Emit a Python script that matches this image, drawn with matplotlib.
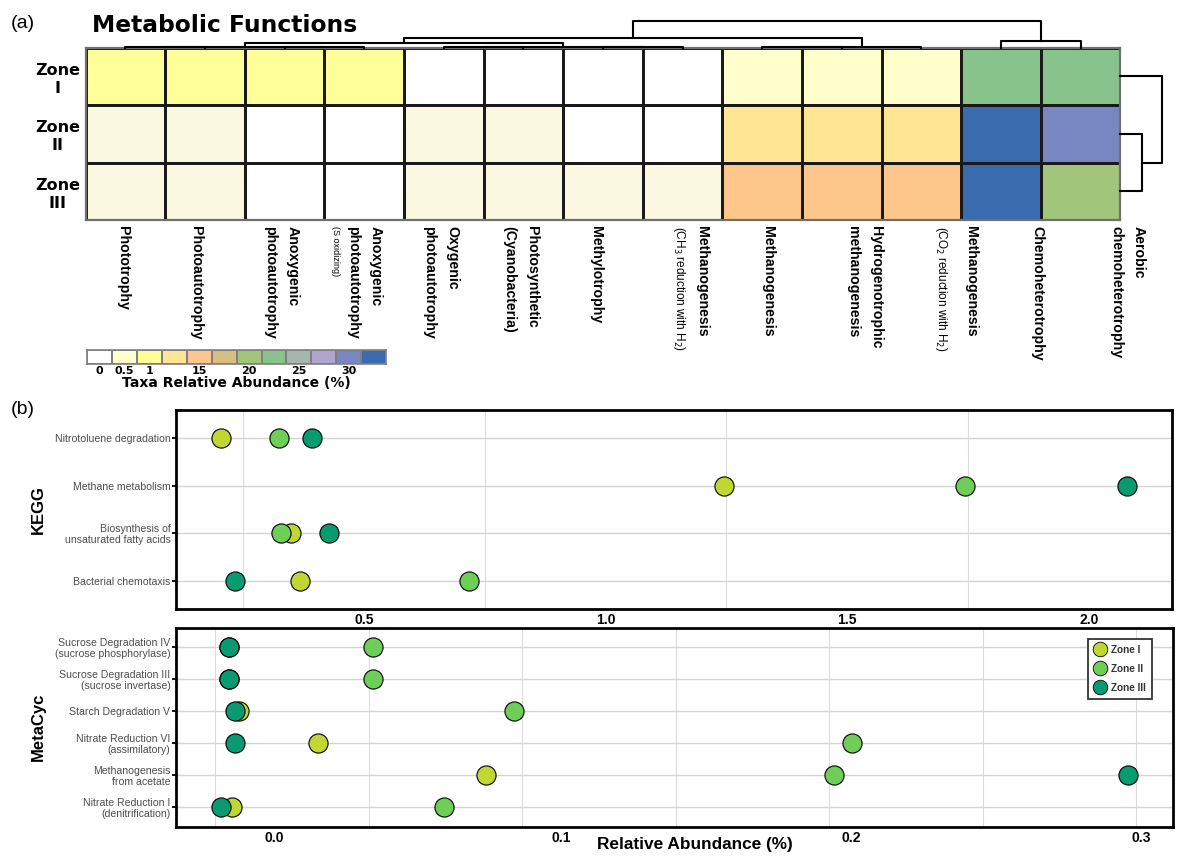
from __future__ import annotations

import matplotlib

matplotlib.use("Agg")
import matplotlib.pyplot as plt
import numpy as np
from matplotlib.colors import BoundaryNorm, ListedColormap
from matplotlib.lines import Line2D

W, H = 1186, 867

# ---------------------------------------------------------------- (a) data
ZONE_NAMES = ["Zone I", "Zone II", "Zone III"]
ZONE_LABELS = ["Zone\nI", "Zone\nII", "Zone\nIII"]

FUNCTIONS = [
    "Phototrophy",
    "Photoautotrophy",
    "Anoxygenic\nphotoautotrophy",
    "Anoxygenic\nphotoautotrophy",
    "Oxygenic\nphotoautotrophy",
    "Photosynthetic\n(Cyanobacteria)",
    "Methylotrophy",
    "Methanogenesis",
    "Methanogenesis",
    "Hydrogenotrophic\nmethanogenesis",
    "Methanogenesis",
    "Chemoheterotrophy",
    "Aerobic\nchemoheterotrophy",
]
FUNCTION_NOTES = {
    3: "(S oxidizing)",
    7: "(CH$_3$ reduction with H$_2$)",
    10: "(CO$_2$ reduction with H$_2$)",
}

# taxa relative abundance (%)
ABUND_ZONE_I = [2.5, 2.5, 2.5, 2.5, 0, 0, 0, 0, 0.7, 0.7, 0.7, 23.5, 23.5]
ABUND_ZONE_II = [0.3, 0.3, 0, 0, 0.3, 0.3, 0, 0, 10, 10, 10, 35, 31]
ABUND_ZONE_III = [0.3, 0.3, 0, 0, 0.3, 0.3, 0.3, 0.3, 16, 16, 16, 34, 21]

BIN_EDGES = [0, 0.05, 0.5, 1, 5, 15, 17.5, 20, 22.5, 25, 27.5, 30, 32.5, 40]
BIN_COLORS = [
    "#FFFFFF", "#FAF8E0", "#FFFFCC", "#FFFF99", "#FFE594", "#FDC68A", "#D9BE82",
    "#A1C57B", "#89C38C", "#A7B5AF", "#B0A5CF", "#7887C1", "#3A6BAF",
]
CBAR_LABELS = ["0", "0.5", "1", "", "15", "", "20", "", "25", "", "30", ""]

# (left, right, height) merges, new node ids continue after the leaves
COL_LINKAGE = [
    (0, 1, 0.4), (2, 3, 0.4), (13, 14, 1.0),
    (4, 5, 0.4), (6, 7, 0.4), (16, 17, 1.0),
    (15, 18, 5.0),
    (8, 9, 0.5), (20, 10, 1.0),
    (19, 21, 9.4),
    (11, 12, 6.7),
    (22, 23, 27.0),
]
ROW_LINKAGE = [(1, 2, 22.0), (0, 3, 41.5)]

# ---------------------------------------------------------------- (b) data
ZONE_COLORS = ["#C0D731", "#6ECE58", "#089A70"]

KEGG_PATHWAYS = [
    "Nitrotoluene degradation",
    "Methane metabolism",
    "Biosynthesis of\nunsaturated fatty acids",
    "Bacterial chemotaxis",
]
KEGG_ZONE_I = [0.205, 1.244, 0.349, 0.368]
KEGG_ZONE_II = [0.325, 1.744, 0.328, 0.718]
KEGG_ZONE_III = [0.393, 2.078, 0.428, 0.234]

META_PATHWAYS = [
    "Sucrose Degradation IV\n(sucrose phosphorylase)",
    "Sucrose Degradation III\n(sucrose invertase)",
    "Starch Degradation V",
    "Nitrate Reduction VI\n(assimilatory)",
    "Methanogenesis\nfrom acetate",
    "Nitrate Reduction I\n(denitrification)",
]
META_ZONE_I = [0.0044, 0.0044, 0.0075, 0.0334, 0.0882, 0.0053]
META_ZONE_II = [0.0513, 0.0513, 0.0973, 0.2075, 0.2014, 0.0743]
META_ZONE_III = [0.0044, 0.0044, 0.0065, 0.0065, 0.2972, 0.0019]

KEGG_TICKS = [0.5, 1.0, 1.5, 2.0]
META_TICK_LABELS = ["0.0", "0.1", "0.2", "0.3"]
# the original figure prints these labels off the grid; keep them where they sit
META_TICK_POS = [0.019, 0.1128, 0.2071, 0.3015]

# label nudges, in column widths
LABEL_SHIFT = [-0.03, -0.11, -0.04, 0.0, -0.04, -0.03, -0.09, 0.24, 0.07, 0.28, 0.62, 0.46, 0.59]
NOTE_SHIFT = {3: -0.36, 7: -0.05, 10: 0.25}

SANS = ["Liberation Sans", "DejaVu Sans"]
WIDE = ["DejaVu Sans"]


def px_axes(fig, left, top, right, bottom):
    return fig.add_axes([left / W, 1 - bottom / H, (right - left) / W, (bottom - top) / H])


def draw_dendrogram(ax, linkage, n_leaves, orient):
    pos = {i: i + 0.5 for i in range(n_leaves)}
    height = {i: 0.0 for i in range(n_leaves)}
    for k, (a, b, h) in enumerate(linkage):
        xs = [pos[a], pos[a], pos[b], pos[b]]
        ys = [height[a], h, h, height[b]]
        if orient == "top":
            ax.plot(xs, ys, color="black", lw=1.5, clip_on=False)
        else:
            ax.plot(ys, xs, color="black", lw=1.5, clip_on=False)
        node = n_leaves + k
        pos[node] = (pos[a] + pos[b]) / 2
        height[node] = h
    ax.axis("off")


def heatmap_panel(fig):
    data = np.array([ABUND_ZONE_I, ABUND_ZONE_II, ABUND_ZONE_III])
    cmap = ListedColormap(BIN_COLORS)
    norm = BoundaryNorm(BIN_EDGES, cmap.N)
    ax = px_axes(fig, 85.7, 47.7, 1120.4, 220)
    ax.pcolormesh(data, cmap=cmap, norm=norm, edgecolors="#1a1a1a", linewidth=1.0)
    ax.set_xlim(0, data.shape[1])
    ax.set_ylim(data.shape[0], 0)
    ax.set_xticks([])
    ax.set_yticks([])
    for s in ax.spines.values():
        s.set_color("#707070")
        s.set_linewidth(1.6)

    for i, lab in enumerate(ZONE_LABELS):
        ax.text(-0.35, i + 0.55, lab, ha="center", va="center", fontsize=11.5,
                fontweight="bold", family=WIDE, linespacing=1.25)

    for j, lab in enumerate(FUNCTIONS):
        ax.text(j + 0.5 + LABEL_SHIFT[j], 3.1, lab, rotation=270, ha="center", va="top",
                multialignment="left", fontsize=10.2, fontweight="bold",
                linespacing=1.8, clip_on=False)
    for j, note in FUNCTION_NOTES.items():
        size = 6.5 if j == 3 else 8.5
        ax.text(j + 0.5 + NOTE_SHIFT[j], 3.1, note, rotation=270, ha="center", va="top",
                fontsize=size, clip_on=False)

    ax_top = px_axes(fig, 85.7, 20.7, 1120.4, 47.7)
    ax_top.set_xlim(0, data.shape[1])
    ax_top.set_ylim(0, 27)
    draw_dendrogram(ax_top, COL_LINKAGE, data.shape[1], "top")

    ax_side = px_axes(fig, 1120.4, 47.7, 1161.9, 220)
    ax_side.set_xlim(0, 41.5)
    ax_side.set_ylim(data.shape[0], 0)
    draw_dendrogram(ax_side, ROW_LINKAGE, data.shape[0], "side")

    # colour key: all bins except the faint 0-0.5 tint
    key_colors = [c for k, c in enumerate(BIN_COLORS) if k != 1]
    ax_cb = px_axes(fig, 87.3, 350, 386, 364)
    ax_cb.pcolormesh(np.arange(len(key_colors)).reshape(1, -1), cmap=ListedColormap(key_colors),
                     edgecolors="#808080", linewidth=1.2)
    ax_cb.set_xlim(0, len(key_colors))
    ax_cb.set_ylim(0, 1)
    ax_cb.set_yticks([])
    ax_cb.set_xticks(np.arange(len(key_colors)) + 0.5, CBAR_LABELS)
    ax_cb.tick_params(length=0, pad=1.5)
    for t in ax_cb.get_xticklabels():
        t.set_fontweight("bold")
        t.set_fontsize(8)
        t.set_family(WIDE)
    ax_cb.set_xlabel("Taxa Relative Abundance (%)", fontsize=10, fontweight="bold",
                     family=WIDE, labelpad=0)
    for s in ax_cb.spines.values():
        s.set_color("#808080")
        s.set_linewidth(1.2)


def dot_panel(ax, pathways, zone_values, ticks, tick_labels, grid_start, grid_step):
    y = np.arange(len(pathways))
    for vals, color, name in zip(zone_values, ZONE_COLORS, ZONE_NAMES):
        ax.scatter(vals, y, s=190, c=color, edgecolors="black", linewidths=0.8,
                   zorder=3, label=name)
    allv = np.concatenate([np.asarray(v) for v in zone_values])
    lo, hi = allv.min(), allv.max()
    pad = 0.05 * (hi - lo)
    ax.set_xlim(lo - pad, hi + pad)
    ax.set_ylim(len(pathways) - 0.4, -0.6)
    ax.set_yticks(y, pathways)
    ax.set_xticks(ticks, tick_labels)
    ax.set_xticks(np.arange(grid_start, hi + pad, grid_step), minor=True)
    ax.grid(which="minor", axis="x", color="#DCDCDC", lw=0.8)
    ax.grid(which="major", axis="y", color="#D4D4D4", lw=1.0)
    ax.set_axisbelow(True)
    ax.tick_params(axis="x", which="both", length=0, pad=3)
    ax.tick_params(axis="y", length=3, width=1.3, color="black", labelcolor="#4D4D4D",
                   labelsize=7.6, pad=1)
    for t in ax.get_xticklabels():
        t.set_fontweight("bold")
        t.set_fontsize(10)
    for t in ax.get_yticklabels():
        t.set_linespacing(1.1)
    for s in ax.spines.values():
        s.set_color("black")
        s.set_linewidth(2.0)


def main() -> None:
    plt.rcParams["font.family"] = SANS
    fig = plt.figure(figsize=(W / 100, H / 100), dpi=100)

    fig.text(11 / W, 1 - 24 / H, "(a)", fontsize=14, va="center", ha="left")
    fig.text(92 / W, 1 - 25 / H, "Metabolic Functions", fontsize=16.8, fontweight="bold",
             family=WIDE, va="center", ha="left")
    heatmap_panel(fig)

    fig.text(11 / W, 1 - 410 / H, "(b)", fontsize=14, va="center", ha="left")
    ax_k = px_axes(fig, 176, 409.6, 1172, 609)
    dot_panel(ax_k, KEGG_PATHWAYS, [KEGG_ZONE_I, KEGG_ZONE_II, KEGG_ZONE_III],
              KEGG_TICKS, [f"{v:.1f}" for v in KEGG_TICKS], 0.25, 0.25)
    ax_m = px_axes(fig, 176, 628, 1173, 826.6)
    dot_panel(ax_m, META_PATHWAYS, [META_ZONE_I, META_ZONE_II, META_ZONE_III],
              META_TICK_POS, META_TICK_LABELS, 0.0, 0.05)

    fig.text(38 / W, 1 - 509.5 / H, "KEGG", rotation=90, fontsize=12, fontweight="bold",
             ha="center", va="center")
    fig.text(38 / W, 1 - 727 / H, "MetaCyc", rotation=90, fontsize=12, fontweight="bold",
             ha="center", va="center")
    fig.text(695 / W, 1 - 845 / H, "Relative Abundance (%)", fontsize=12.4, fontweight="bold",
             ha="center", va="center")

    handles = [
        Line2D([], [], marker="o", ls="none", markersize=10.5, markerfacecolor=c,
               markeredgecolor="black", markeredgewidth=0.6, label=n)
        for c, n in zip(ZONE_COLORS, ZONE_NAMES)
    ]
    leg = ax_m.legend(handles=handles, loc="upper right", bbox_to_anchor=(0.979, 0.945),
                      borderaxespad=0, fontsize=7.2, handlelength=1.3, handletextpad=0.45,
                      labelspacing=0.9, borderpad=0.6, fancybox=False, framealpha=1)
    leg.get_frame().set_edgecolor("#333333")
    leg.get_frame().set_linewidth(1.3)
    for t in leg.get_texts():
        t.set_fontweight("bold")
        t.set_color("#333333")

    fig.savefig("out.png", dpi=100)
    plt.close(fig)


if __name__ == "__main__":
    main()
